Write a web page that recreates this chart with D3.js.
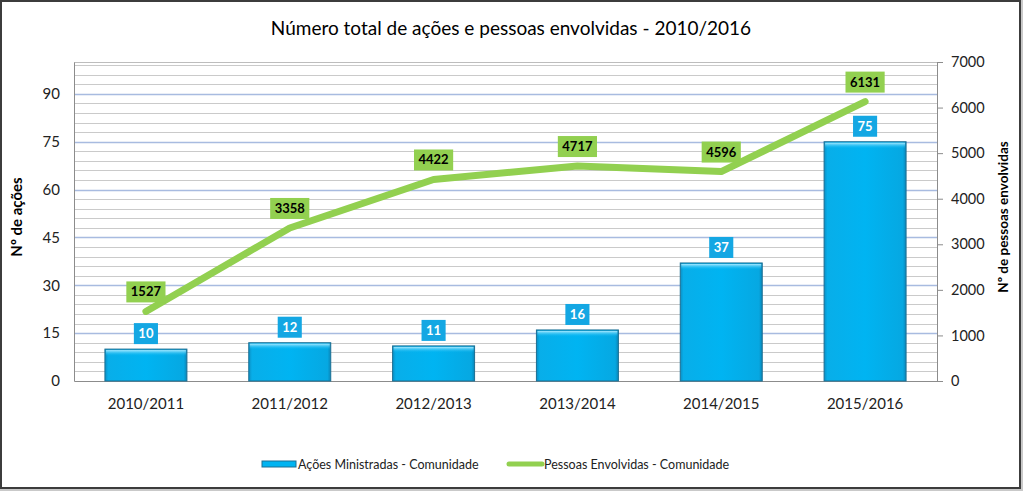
<!DOCTYPE html>
<html><head><meta charset="utf-8">
<script src="https://cdn.jsdelivr.net/npm/d3@7"></script>
<style>html,body{margin:0;padding:0;background:#fff;}svg{display:block;}</style>
</head><body>
<script>
// ---- data ----
const categories = ["2010/2011","2011/2012","2012/2013","2013/2014","2014/2015","2015/2016"];
const acoes = [10, 12, 11, 16, 37, 75];
const pessoas = [1527, 3358, 4422, 4717, 4596, 6131];
const leftTicks = [0, 15, 30, 45, 60, 75, 90];
const rightTicks = [0, 1000, 2000, 3000, 4000, 5000, 6000, 7000];
const title = "Número total de ações e pessoas envolvidas - 2010/2016";
const leftTitle = "Nº de ações";
const rightTitle = "Nº de pessoas envolvidas";
const seriesNames = ["Ações Ministradas - Comunidade", "Pessoas Envolvidas - Comunidade"];

const W = 1023, H = 491;
const FONT = "Lato, 'Open Sans', sans-serif";
const plot = {left: 74, right: 937, top: 62, bottom: 381};

const svg = d3.select("body").append("svg").attr("width", W).attr("height", H);
const defs = svg.append("defs");
const gb = defs.append("linearGradient").attr("id","barGrad").attr("x1",0).attr("x2",1).attr("y1",0).attr("y2",0);
gb.append("stop").attr("offset","0%").attr("stop-color","#0a8fc4");
gb.append("stop").attr("offset","4%").attr("stop-color","#08aee9");
gb.append("stop").attr("offset","50%").attr("stop-color","#00b4f2");
gb.append("stop").attr("offset","96%").attr("stop-color","#06a8e2");
gb.append("stop").attr("offset","100%").attr("stop-color","#0a86b8");
const gt = defs.append("linearGradient").attr("id","barTop").attr("x1",0).attr("x2",0).attr("y1",0).attr("y2",1);
gt.append("stop").attr("offset","0%").attr("stop-color","#a8e9ff");
gt.append("stop").attr("offset","100%").attr("stop-color","#00b4f2").attr("stop-opacity",0);

// background / frame
svg.append("rect").attr("width",W).attr("height",H).attr("fill","#c9c9c9");
svg.append("rect").attr("x",1).attr("y",1).attr("width",1019).attr("height",487)
  .attr("fill","#fff").attr("stroke","#3c3c3c").attr("stroke-width",2);

// title
svg.append("text").attr("x",511).attr("y",35).attr("text-anchor","middle")
  .attr("font-family",FONT).attr("font-size",19).attr("fill","#000").text(title);

// scales
const x = d3.scaleBand().domain(categories).range([plot.left, plot.right]).paddingInner(0.43).paddingOuter(0.215);
const yL = d3.scaleLinear().domain([0, 100]).range([plot.bottom, plot.top]);
const yR = d3.scaleLinear().domain([0, 7000]).range([plot.bottom, plot.top]);
const cx = c => x(c) + x.bandwidth()/2;

// gridlines
const minor = d3.range(3, 100, 3).filter(v => v % 15 !== 0);
svg.append("g").selectAll("line").data(minor).join("line")
  .attr("x1",plot.left).attr("x2",plot.right)
  .attr("y1",d=>Math.round(yL(d))+0.5).attr("y2",d=>Math.round(yL(d))+0.5)
  .attr("stroke","#cacaca").attr("stroke-width",1);
svg.append("g").selectAll("line").data(leftTicks.filter(d=>d>0)).join("line")
  .attr("x1",plot.left).attr("x2",plot.right)
  .attr("y1",d=>Math.round(yL(d))+0.5).attr("y2",d=>Math.round(yL(d))+0.5)
  .attr("stroke","#a8bbe0").attr("stroke-width",1.3);
svg.append("line").attr("x1",plot.left).attr("x2",plot.right).attr("y1",plot.top+0.5).attr("y2",plot.top+0.5)
  .attr("stroke","#bdbdbd");

// axes
const axL = svg.append("g").attr("transform",`translate(${plot.left},0)`)
  .call(d3.axisLeft(yL).tickValues(leftTicks).tickSize(0).tickPadding(14));
const axR = svg.append("g").attr("transform",`translate(${plot.right},0)`)
  .call(d3.axisRight(yR).tickValues(rightTicks).tickFormat(d3.format("d")).tickSize(6).tickPadding(8));
const axB = svg.append("g").attr("transform",`translate(0,${plot.bottom})`)
  .call(d3.axisBottom(x).tickSize(0).tickPadding(17));
[axL, axR, axB].forEach(a => {
  a.select(".domain").attr("stroke","#8c8c8c");
  a.selectAll(".tick line").attr("stroke","#8c8c8c");
  a.selectAll("text").attr("font-family",FONT).attr("fill","#222");
});
axL.selectAll("text").attr("font-size",15);
axB.selectAll("text").attr("font-size",15);
axR.selectAll("text").attr("font-size",14.5);

// axis titles
svg.append("text").attr("transform","translate(22,217) rotate(-90)").attr("text-anchor","middle")
  .attr("font-family",FONT).attr("font-weight","bold").attr("font-size",15).attr("fill","#000").text(leftTitle);
svg.append("text").attr("transform","translate(1008,217) rotate(-90)").attr("text-anchor","middle")
  .attr("font-family",FONT).attr("font-weight","bold").attr("font-size",13.5).attr("fill","#000").text(rightTitle);

// bars
const bars = svg.append("g");
categories.forEach((c, i) => {
  const bx = x(c), bw = x.bandwidth(), by = yL(acoes[i]), bh = plot.bottom - yL(acoes[i]);
  bars.append("rect").attr("x",bx).attr("y",by).attr("width",bw).attr("height",bh)
    .attr("fill","url(#barGrad)").attr("stroke","#1d6f93").attr("stroke-width",1);
  bars.append("rect").attr("x",bx+1).attr("y",by+1).attr("width",bw-2).attr("height",Math.min(6,bh-1))
    .attr("fill","url(#barTop)");
});

// line
const line = d3.line().x((d,i)=>cx(categories[i])).y(d=>yR(d));
svg.append("path").datum(pessoas).attr("d",line).attr("fill","none")
  .attr("stroke","#92d050").attr("stroke-width",7).attr("stroke-linecap","round").attr("stroke-linejoin","round");

// labels
function label(xc, ybottom, txt, fill, color) {
  const g = svg.append("g");
  const t = g.append("text").attr("x",xc).attr("y",ybottom-6).attr("text-anchor","middle")
    .attr("font-family",FONT).attr("font-weight","bold").attr("font-size",13).attr("fill",color).text(txt);
  const w = t.node().getComputedTextLength() + 9;
  g.insert("rect","text").attr("x",xc-w/2).attr("y",ybottom-21).attr("width",w).attr("height",21).attr("fill",fill);
}
categories.forEach((c,i) => label(cx(c), yL(acoes[i]) - 5, String(acoes[i]), "#14a7e3", "#fff"));
categories.forEach((c,i) => label(cx(c), yR(pessoas[i]) - 9, String(pessoas[i]), "#92d050", "#000"));

// legend
const lg = svg.append("g");
lg.append("rect").attr("x",262).attr("y",461).attr("width",34).attr("height",6)
  .attr("fill","#00b4f2").attr("stroke","#1d6f93").attr("stroke-width",1);
lg.append("text").attr("x",298).attr("y",468.5).attr("font-family",FONT).attr("font-size",12.5).attr("fill","#222").text(seriesNames[0]);
lg.append("line").attr("x1",509).attr("x2",542).attr("y1",464).attr("y2",464)
  .attr("stroke","#92d050").attr("stroke-width",5).attr("stroke-linecap","round");
lg.append("text").attr("x",544).attr("y",468.5).attr("font-family",FONT).attr("font-size",12.5).attr("fill","#222").text(seriesNames[1]);
</script>
</body></html>
